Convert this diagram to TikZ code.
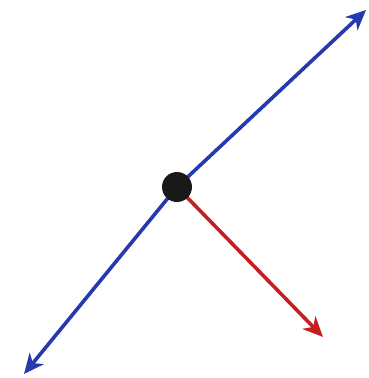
\documentclass[tikz,border=0pt]{standalone}
\usetikzlibrary{arrows.meta}
\definecolor{lineblue}{RGB}{38,58,175}
\definecolor{arrowred}{RGB}{196,32,34}
\begin{document}
\begin{tikzpicture}[x=1pt,y=-1pt,
  vec/.style={line width=3.6pt,-{Stealth[length=20pt,width=18pt,inset=6pt]}},
  dotstyle/.style={circle,fill=black!90,inner sep=0pt,minimum size=30pt}]
\useasboundingbox (0,0) rectangle (368,378);
\coordinate (p) at (177,187);
\coordinate (tr) at (366,10);
\coordinate (bl) at (24,374);
\coordinate (rd) at (323,337);
\draw[vec,lineblue] (p) -- (tr);
\draw[vec,lineblue] (p) -- (bl);
\draw[vec,arrowred] (p) -- (rd);
\node[dotstyle] (dot) at (p) {};
\end{tikzpicture}
\end{document}
